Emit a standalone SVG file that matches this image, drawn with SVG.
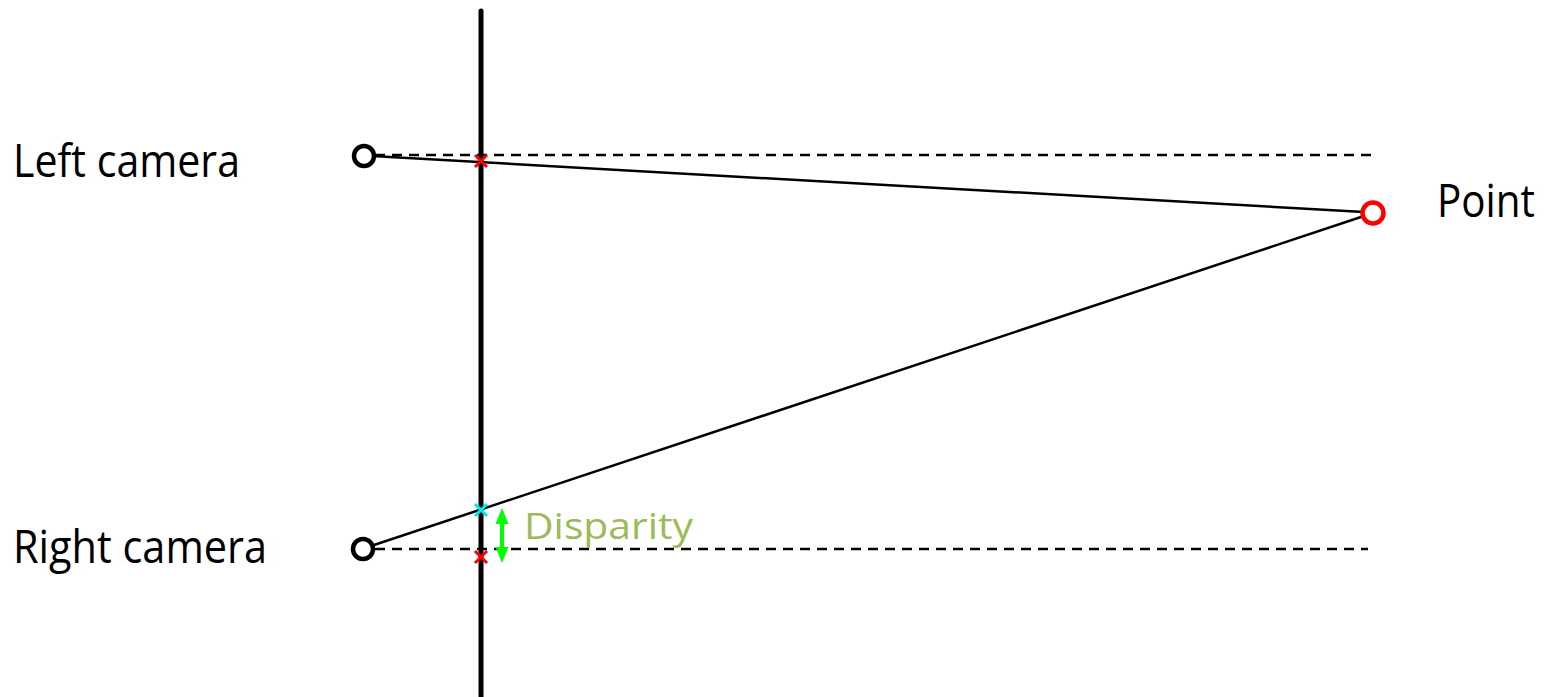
<svg xmlns="http://www.w3.org/2000/svg" width="1548" height="697" viewBox="0 0 1548 697">
<style>
.lbl{font-family:"Open Sans","Liberation Sans",sans-serif;font-size:45px;fill:#000}
.dash{stroke:#000;stroke-width:2.5;stroke-dasharray:10,7;fill:none}
.ray{stroke:#000;stroke-width:2.5;fill:none}
.cam{fill:#fff;stroke:#000;stroke-width:4.5}
.xr{stroke:#ff0000;stroke-width:3}
.xc{stroke:#00e8f0;stroke-width:3}
</style>
<rect width="1548" height="697" fill="#fff"/>
<g id="connectors">
<line class="dash" x1="375" y1="155" x2="1375" y2="155"/>
<line class="dash" x1="375" y1="549" x2="1368" y2="549"/>
<line id="imageplane" x1="481" y1="11" x2="481" y2="697" stroke="#000" stroke-width="5" stroke-linecap="round"/>
<line class="ray" x1="372" y1="156" x2="1364" y2="212"/>
<line class="ray" x1="371" y1="546" x2="1364" y2="216"/>
</g>
<g id="marks">
<path class="xr" d="M475,155 L487,167 M487,155 L475,167"/>
<path class="xc" d="M475,504 L487,516 M487,504 L475,516"/>
<path class="xr" d="M475,551 L487,563 M487,551 L475,563"/>
</g>
<g id="disparity-arrow">
<line x1="502" y1="520" x2="502" y2="552" stroke="#00ff00" stroke-width="4"/>
<polygon points="502,508 495.5,524 508.5,524" fill="#00ff00"/>
<polygon points="502,563 495.5,547 508.5,547" fill="#00ff00"/>
</g>
<g id="left-camera">
<circle class="cam" cx="364" cy="156" r="10"/>
<text class="lbl" x="13" y="177" textLength="227" lengthAdjust="spacingAndGlyphs">Left camera</text>
</g>
<g id="right-camera">
<circle class="cam" cx="363" cy="549" r="10"/>
<text class="lbl" x="13" y="563" textLength="254" lengthAdjust="spacingAndGlyphs">Right camera</text>
</g>
<g id="point">
<circle cx="1373" cy="213" r="10.5" fill="#fff" stroke="#ff0000" stroke-width="4.5"/>
<text class="lbl" x="1437" y="217" textLength="98" lengthAdjust="spacingAndGlyphs">Point</text>
</g>
<g id="disparity">
<text x="524" y="539" font-family="Open Sans, Liberation Sans, sans-serif" font-size="37" fill="#9bbb59" textLength="169" lengthAdjust="spacingAndGlyphs">Disparity</text>
</g>
</svg>
